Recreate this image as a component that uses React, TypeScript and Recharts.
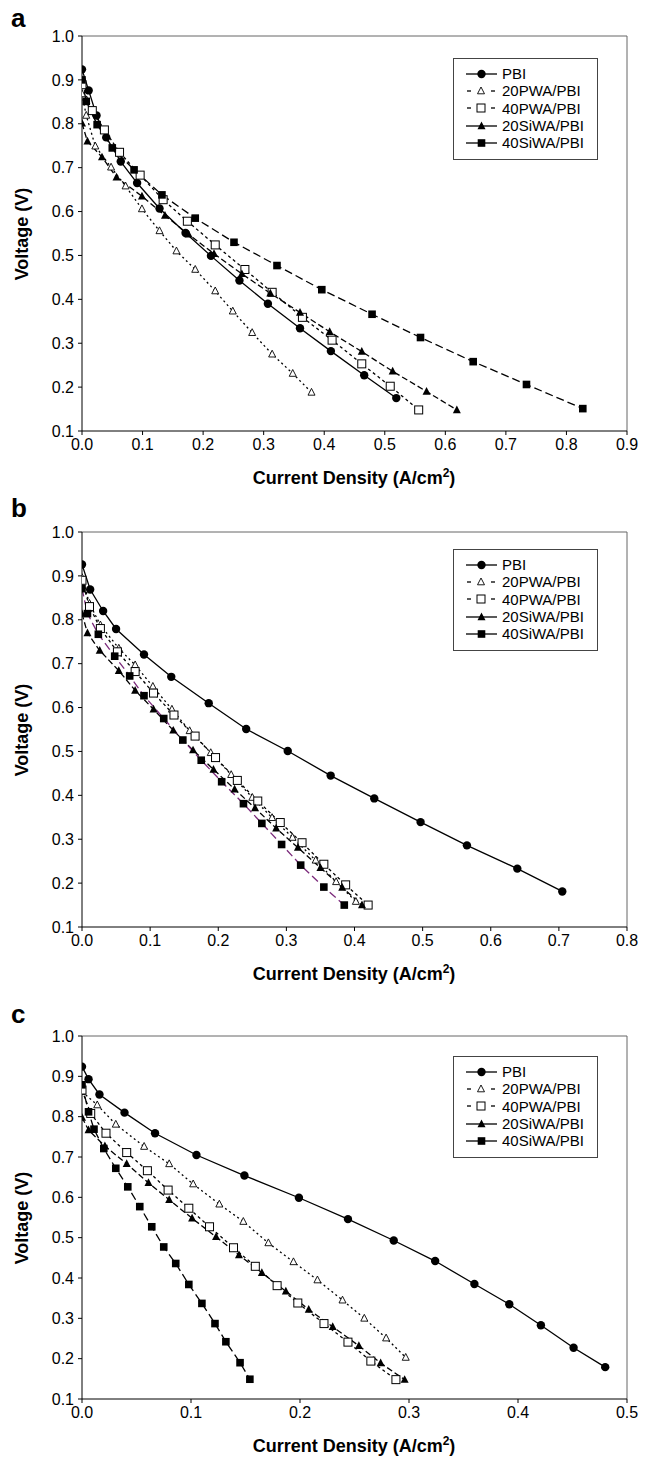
import { LineChart, Line, XAxis, YAxis, ReferenceLine, Legend } from 'recharts';

type Pt = [number, number];

const SERIES_NAMES = ['PBI', '20PWA/PBI', '40PWA/PBI', '20SiWA/PBI', '40SiWA/PBI'];
const Y_TICKS = [0.1, 0.2, 0.3, 0.4, 0.5, 0.6, 0.7, 0.8, 0.9, 1.0];
const X_TICKS_A = [0, 0.1, 0.2, 0.3, 0.4, 0.5, 0.6, 0.7, 0.8, 0.9];
const X_TICKS_B = [0, 0.1, 0.2, 0.3, 0.4, 0.5, 0.6, 0.7, 0.8];
const X_TICKS_C = [0, 0.1, 0.2, 0.3, 0.4, 0.5];

// panel a
const A_PBI: Pt[] = [[0, 0.924], [0.011, 0.876], [0.024, 0.819], [0.04, 0.769], [0.064, 0.714], [0.091, 0.665], [0.128, 0.607], [0.171, 0.551], [0.213, 0.499], [0.26, 0.443], [0.307, 0.39], [0.36, 0.334], [0.411, 0.282], [0.466, 0.227], [0.519, 0.175]];
const A_20PWA: Pt[] = [[0, 0.868], [0.007, 0.819], [0.022, 0.749], [0.048, 0.701], [0.072, 0.658], [0.099, 0.606], [0.128, 0.556], [0.156, 0.51], [0.187, 0.468], [0.22, 0.419], [0.249, 0.373], [0.281, 0.324], [0.314, 0.275], [0.348, 0.231], [0.379, 0.188]];
const A_40PWA: Pt[] = [[0, 0.889], [0.017, 0.83], [0.037, 0.786], [0.062, 0.735], [0.096, 0.683], [0.134, 0.627], [0.174, 0.578], [0.22, 0.524], [0.269, 0.468], [0.314, 0.416], [0.364, 0.359], [0.413, 0.307], [0.462, 0.253], [0.509, 0.202], [0.556, 0.148]];
const A_20SIWA: Pt[] = [[0, 0.801], [0.009, 0.76], [0.033, 0.724], [0.057, 0.678], [0.099, 0.635], [0.137, 0.591], [0.176, 0.548], [0.218, 0.504], [0.264, 0.458], [0.311, 0.414], [0.36, 0.37], [0.409, 0.326], [0.462, 0.281], [0.513, 0.236], [0.569, 0.19], [0.619, 0.148]];
const A_40SIWA: Pt[] = [[0, 0.9], [0.007, 0.851], [0.025, 0.798], [0.05, 0.745], [0.086, 0.695], [0.132, 0.638], [0.187, 0.585], [0.251, 0.53], [0.322, 0.477], [0.396, 0.422], [0.479, 0.366], [0.559, 0.313], [0.646, 0.258], [0.734, 0.206], [0.827, 0.151]];

// panel b
const B_PBI: Pt[] = [[0, 0.926], [0.012, 0.869], [0.031, 0.82], [0.05, 0.779], [0.091, 0.721], [0.131, 0.67], [0.186, 0.61], [0.241, 0.551], [0.302, 0.501], [0.365, 0.445], [0.429, 0.393], [0.497, 0.339], [0.565, 0.286], [0.639, 0.233], [0.705, 0.181]];
const B_20PWA: Pt[] = [[0, 0.896], [0.011, 0.837], [0.027, 0.788], [0.054, 0.735], [0.078, 0.697], [0.104, 0.648], [0.132, 0.596], [0.158, 0.547], [0.189, 0.497], [0.219, 0.447], [0.25, 0.395], [0.279, 0.349], [0.309, 0.304], [0.343, 0.252], [0.373, 0.203], [0.402, 0.158]];
const B_40PWA: Pt[] = [[0, 0.89], [0.011, 0.83], [0.027, 0.78], [0.052, 0.727], [0.078, 0.682], [0.105, 0.633], [0.135, 0.583], [0.166, 0.535], [0.196, 0.486], [0.228, 0.434], [0.258, 0.387], [0.291, 0.338], [0.323, 0.292], [0.355, 0.243], [0.387, 0.196], [0.42, 0.15]];
const B_20SIWA: Pt[] = [[0, 0.814], [0.008, 0.77], [0.026, 0.73], [0.054, 0.684], [0.078, 0.639], [0.105, 0.596], [0.134, 0.548], [0.163, 0.503], [0.193, 0.459], [0.224, 0.414], [0.254, 0.371], [0.285, 0.325], [0.317, 0.281], [0.35, 0.235], [0.382, 0.19], [0.411, 0.15]];
const B_40SIWA: Pt[] = [[0, 0.871], [0.008, 0.814], [0.024, 0.767], [0.048, 0.717], [0.07, 0.672], [0.091, 0.627], [0.12, 0.575], [0.148, 0.526], [0.175, 0.48], [0.205, 0.431], [0.237, 0.381], [0.264, 0.336], [0.293, 0.288], [0.321, 0.241], [0.355, 0.191], [0.385, 0.15]];

// panel c
const C_PBI: Pt[] = [[0, 0.924], [0.006, 0.893], [0.016, 0.855], [0.039, 0.81], [0.067, 0.759], [0.105, 0.705], [0.149, 0.654], [0.199, 0.599], [0.244, 0.546], [0.286, 0.493], [0.324, 0.442], [0.36, 0.385], [0.392, 0.335], [0.421, 0.283], [0.451, 0.227], [0.48, 0.179]];
const C_20PWA: Pt[] = [[0, 0.862], [0.014, 0.829], [0.031, 0.781], [0.057, 0.726], [0.08, 0.683], [0.102, 0.633], [0.126, 0.583], [0.148, 0.54], [0.171, 0.487], [0.194, 0.44], [0.216, 0.395], [0.239, 0.345], [0.259, 0.3], [0.279, 0.251], [0.297, 0.203]];
const C_40PWA: Pt[] = [[0, 0.866], [0.008, 0.808], [0.022, 0.759], [0.041, 0.711], [0.06, 0.666], [0.079, 0.618], [0.098, 0.573], [0.117, 0.527], [0.139, 0.475], [0.159, 0.429], [0.179, 0.381], [0.198, 0.338], [0.222, 0.287], [0.244, 0.241], [0.265, 0.194], [0.288, 0.148]];
const C_20SIWA: Pt[] = [[0, 0.798], [0.006, 0.767], [0.021, 0.727], [0.041, 0.683], [0.061, 0.636], [0.08, 0.594], [0.101, 0.548], [0.123, 0.502], [0.144, 0.457], [0.165, 0.413], [0.187, 0.367], [0.208, 0.322], [0.23, 0.279], [0.254, 0.232], [0.274, 0.189], [0.296, 0.148]];
const C_40SIWA: Pt[] = [[0, 0.879], [0.006, 0.812], [0.011, 0.769], [0.02, 0.721], [0.031, 0.672], [0.042, 0.626], [0.053, 0.577], [0.064, 0.527], [0.075, 0.477], [0.086, 0.436], [0.098, 0.384], [0.11, 0.337], [0.122, 0.287], [0.132, 0.242], [0.145, 0.19], [0.154, 0.149]];

const FONT = '"Liberation Sans", Arial, Helvetica, sans-serif';

type MarkerKind = 'circle' | 'openTri' | 'openSq' | 'tri' | 'sq';

const MARKERS: MarkerKind[] = ['circle', 'openTri', 'openSq', 'tri', 'sq'];
const DASHES: (string | undefined)[] = [undefined, '2 3', '3 3', '6 3', '8 4'];

function Marker({ kind, cx, cy }: { kind: MarkerKind; cx: number; cy: number }) {
  if (kind === 'circle') return <circle cx={cx} cy={cy} r={4.2} fill="#000" />;
  if (kind === 'openTri')
    return <polygon points={`${cx},${cy - 4} ${cx - 3.5},${cy + 2.8} ${cx + 3.5},${cy + 2.8}`} fill="#fff" stroke="#000" strokeWidth={0.9} />;
  if (kind === 'openSq') return <rect x={cx - 4} y={cy - 4} width={8} height={8} fill="#fff" stroke="#000" strokeWidth={1} />;
  if (kind === 'tri')
    return <polygon points={`${cx},${cy - 4.5} ${cx - 4},${cy + 3.2} ${cx + 4},${cy + 3.2}`} fill="#000" />;
  return <rect x={cx - 3.8} y={cy - 3.8} width={7.6} height={7.6} fill="#000" />;
}

function LegendBox() {
  return (
    <div style={{ width: 145, height: 102, boxSizing: 'border-box', border: '1px solid #444', background: '#fff', paddingTop: 6, paddingLeft: 12, fontFamily: FONT, fontSize: 15, color: '#000' }}>
      {SERIES_NAMES.map((name, i) => {
        const solid = i === 0 || i >= 3;
        return (
          <div key={name} style={{ display: 'flex', alignItems: 'center', height: 17.3, lineHeight: '17px' }}>
            <svg width={36} height={12} style={{ flex: 'none' }}>
              {solid ? (
                <line x1={0} y1={6} x2={31} y2={6} stroke="#000" strokeWidth={1.3} />
              ) : (
                <>
                  <line x1={1} y1={6} x2={5} y2={6} stroke="#000" strokeWidth={1.3} />
                  <line x1={25} y1={6} x2={29} y2={6} stroke="#000" strokeWidth={1.3} />
                </>
              )}
              <Marker kind={MARKERS[i]} cx={solid ? 15.5 : 15} cy={6} />
            </svg>
            <span style={{ whiteSpace: 'nowrap' }}>{name}</span>
          </div>
        );
      })}
    </div>
  );
}

type PanelProps = {
  top: number;
  plotTop: number;
  plotBottom: number;
  xMax: number;
  xTicks: number[];
  series: Pt[][];
  legendTop: number;
  letter: string;
  letterTop: number;
  colors?: string[];
};

function Panel({ top, plotTop, plotBottom, xMax, xTicks, series, legendTop, letter, letterTop, colors }: PanelProps) {
  const height = plotBottom - top + 36;
  const tickStyle = { fontSize: 16, fill: '#000', fontFamily: FONT };
  return (
    <>
      <div style={{ position: 'absolute', left: 11, top: letterTop, fontFamily: FONT, fontWeight: 'bold', fontSize: 26, lineHeight: '26px' }}>{letter}</div>
      <div style={{ position: 'absolute', left: 0, top }}>
        <LineChart width={646} height={height} margin={{ top: plotTop - top, right: 19, left: 0, bottom: 6 }}>
          <XAxis
            type="number"
            dataKey="x"
            domain={[0, xMax]}
            ticks={xTicks}
            interval={0}
            allowDataOverflow
            tickFormatter={(v: number) => v.toFixed(1)}
            tickSize={4}
            tickMargin={4}
            height={30}
            stroke="#000"
            tick={tickStyle}
          />
          <YAxis
            type="number"
            dataKey="y"
            domain={[0.1, 1.0]}
            ticks={Y_TICKS}
            interval={0}
            allowDataOverflow
            tickFormatter={(v: number) => v.toFixed(1)}
            tickSize={4}
            tickMargin={4}
            width={82}
            stroke="#000"
            tick={tickStyle}
          />
          <ReferenceLine y={1.0} stroke="#666" strokeWidth={1} ifOverflow="extendDomain" />
          <ReferenceLine x={xMax} stroke="#666" strokeWidth={1} ifOverflow="extendDomain" />
          {series.map((pts, i) => (
            <Line
              key={SERIES_NAMES[i]}
              name={SERIES_NAMES[i]}
              data={pts.map(([x, y]) => ({ x, y }))}
              dataKey="y"
              type="linear"
              stroke={colors?.[i] ?? '#000'}
              strokeWidth={1.3}
              strokeDasharray={DASHES[i]}
              isAnimationActive={false}
              dot={(p: any) => <Marker key={`${SERIES_NAMES[i]}-${p.index}`} kind={MARKERS[i]} cx={p.cx} cy={p.cy} />}
              activeDot={false}
            />
          ))}
          <Legend
            layout="vertical"
            verticalAlign="middle"
            align="center"
            content={() => <LegendBox />}
            wrapperStyle={{ position: 'absolute', left: 453, top: legendTop - top, width: 145, height: 102 }}
          />
        </LineChart>
      </div>
      <div style={{ position: 'absolute', left: 354, top: plotBottom + 38, transform: 'translateX(-50%)', whiteSpace: 'nowrap', fontFamily: FONT, fontWeight: 'bold', fontSize: 18, lineHeight: '18px' }}>
        Current Density (A/cm<sup style={{ fontSize: 12, lineHeight: 0 }}>2</sup>)
      </div>
      <div style={{ position: 'absolute', left: 22, top: (plotTop + plotBottom) / 2, transform: 'translate(-50%, -50%) rotate(-90deg)', whiteSpace: 'nowrap', fontFamily: FONT, fontWeight: 'bold', fontSize: 18, lineHeight: '18px' }}>
        Voltage (V)
      </div>
    </>
  );
}

export default function App() {
  return (
    <div style={{ position: 'absolute', left: 0, top: 0, width: 646, height: 1460, background: '#fff', color: '#000' }}>
      <Panel top={0} plotTop={36} plotBottom={431} xMax={0.9} xTicks={X_TICKS_A} series={[A_PBI, A_20PWA, A_40PWA, A_20SIWA, A_40SIWA]} legendTop={58} letter="a" letterTop={5} />
      <Panel top={480} plotTop={532} plotBottom={927} xMax={0.8} xTicks={X_TICKS_B} series={[B_PBI, B_20PWA, B_40PWA, B_20SIWA, B_40SIWA]} legendTop={549} letter="b" letterTop={495} colors={['#000', '#000', '#000', '#000', '#7b2a7b']} />
      <Panel top={960} plotTop={1036} plotBottom={1399} xMax={0.5} xTicks={X_TICKS_C} series={[C_PBI, C_20PWA, C_40PWA, C_20SIWA, C_40SIWA]} legendTop={1056} letter="c" letterTop={1001} />
    </div>
  );
}
